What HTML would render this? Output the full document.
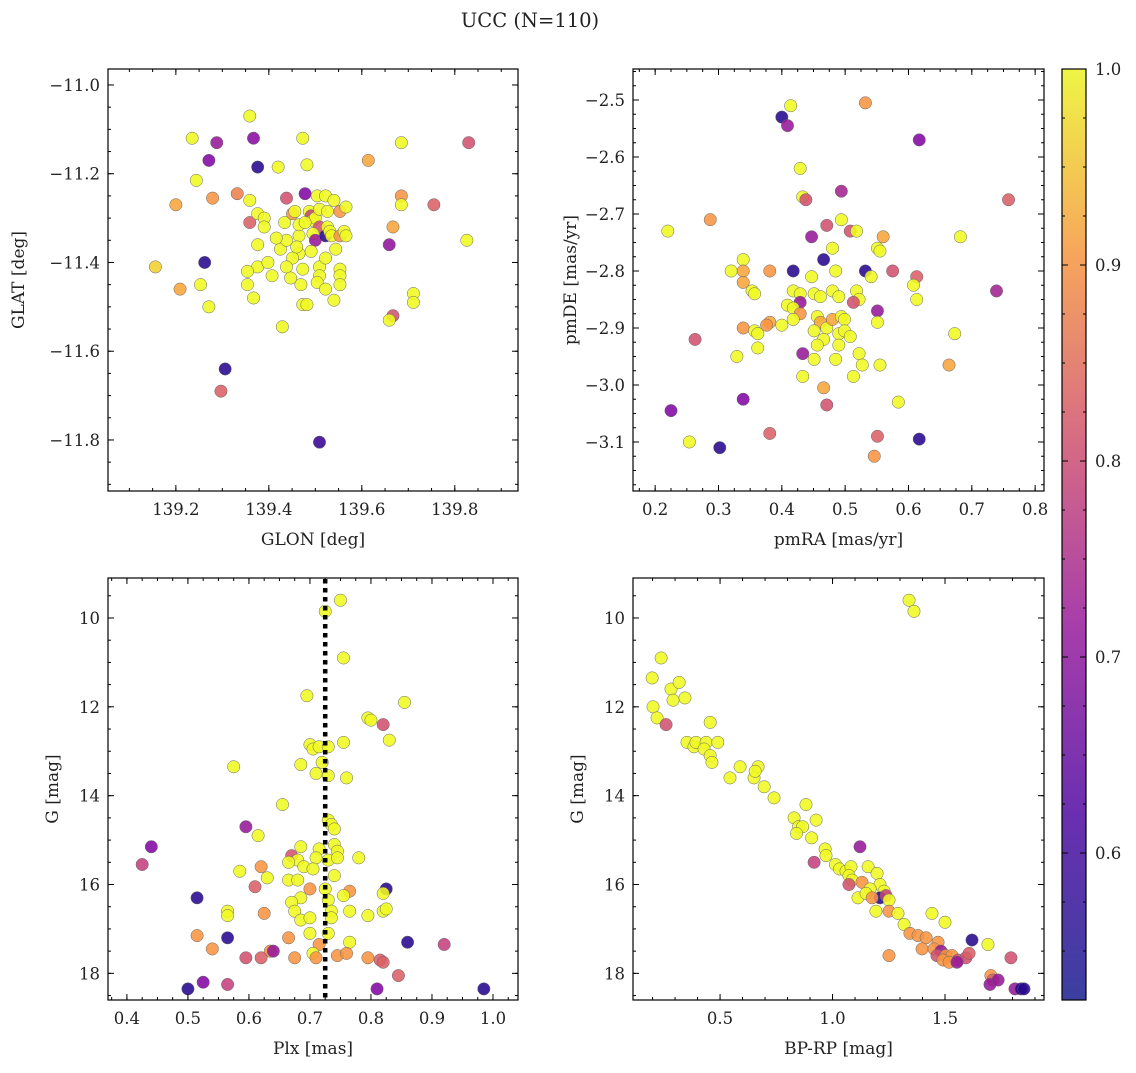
<!DOCTYPE html>
<html><head><meta charset="utf-8"><style>
html,body{margin:0;padding:0;background:#fff}
svg text{font-family:"DejaVu Serif","Liberation Serif",serif;fill:#222}
</style></head><body>
<svg id="fig" width="1136" height="1068" viewBox="0 0 1136 1068" xmlns="http://www.w3.org/2000/svg">
<defs><linearGradient id="cbg" x1="0" y1="1" x2="0" y2="0">
<stop offset="0" stop-color="#3b3fa0"/><stop offset="0.2" stop-color="#6a2fb0"/><stop offset="0.4" stop-color="#a73dab"/><stop offset="0.6" stop-color="#d66b84"/><stop offset="0.8" stop-color="#f7a55c"/><stop offset="1" stop-color="#eef545"/></linearGradient></defs>
<text x="530" y="27" text-anchor="middle" font-size="19.5">UCC (N=110)</text>
</svg>
<script>
// ---- data ----
const p1Glon=[139.235,139.288,139.367,139.359,139.271,139.376,139.244,139.332,139.20,139.279,139.42,139.473,139.482,139.685,139.83,139.614,139.685,139.755,139.685,139.667,139.826,139.659,139.667,139.711,139.711,139.659,139.156,139.209,139.253,139.271,139.262,139.306,139.297,139.509,139.359,139.359,139.376,139.39,139.376,139.376,139.354,139.367,139.354,139.407,139.425,139.438,139.434,139.438,139.451,139.429,139.465,139.465,139.469,139.473,139.482,139.473,139.451,139.465,139.487,139.478,139.491,139.495,139.50,139.504,139.509,139.495,139.50,139.509,139.509,139.504,139.522,139.522,139.526,139.531,139.535,139.54,139.553,139.544,139.553,139.566,139.553,139.562,139.566,139.522,139.54,139.522,139.553,139.398,139.438,139.447,139.456,139.478,139.509,139.491,139.46,139.39,139.526,139.416,139.553];
const p1Glat=[-11.12,-11.13,-11.12,-11.07,-11.17,-11.185,-11.215,-11.245,-11.27,-11.255,-11.185,-11.12,-11.18,-11.13,-11.13,-11.17,-11.25,-11.27,-11.27,-11.32,-11.35,-11.36,-11.52,-11.47,-11.49,-11.53,-11.41,-11.46,-11.45,-11.50,-11.40,-11.64,-11.69,-11.805,-11.31,-11.26,-11.29,-11.30,-11.36,-11.41,-11.42,-11.48,-11.45,-11.43,-11.37,-11.35,-11.31,-11.255,-11.29,-11.545,-11.34,-11.38,-11.45,-11.495,-11.495,-11.415,-11.39,-11.315,-11.285,-11.245,-11.295,-11.305,-11.30,-11.25,-11.32,-11.335,-11.35,-11.41,-11.43,-11.445,-11.25,-11.34,-11.32,-11.33,-11.34,-11.26,-11.285,-11.37,-11.415,-11.275,-11.34,-11.33,-11.34,-11.46,-11.485,-11.39,-11.43,-11.40,-11.41,-11.435,-11.285,-11.31,-11.28,-11.375,-11.365,-11.32,-11.285,-11.345,-11.45];
const p1Prob=[1,.68,.66,1,.65,.55,1,.85,.9,.88,1,1,1,1,.78,.9,.88,.8,1,.9,1,.67,.78,1,1,1,.95,.9,1,1,.55,.55,.8,.57,.8,1,1,1,1,1,1,1,1,1,1,1,1,.78,.88,1,1,1,1,1,1,1,1,1,1,.65,.75,1,1,1,.78,1,.68,1,1,1,1,.55,1,1,1,1,.88,1,1,1,.88,1,1,1,1,1,1,1,1,1,1,1,1,1,1,1,1,1,1];

const p2Pmra=[0.400,0.414,0.409,0.532,0.617,0.429,0.433,0.438,0.758,0.494,0.494,0.287,0.220,0.471,0.447,0.508,0.518,0.560,0.682,0.739,0.551,0.555,0.480,0.339,0.418,0.466,0.532,0.575,0.613,0.320,0.339,0.381,0.447,0.485,0.339,0.353,0.357,0.418,0.429,0.429,0.451,0.461,0.480,0.490,0.518,0.522,0.513,0.551,0.608,0.613,0.409,0.418,0.429,0.381,0.376,0.339,0.357,0.362,0.400,0.418,0.456,0.461,0.471,0.480,0.494,0.499,0.451,0.466,0.490,0.499,0.456,0.490,0.362,0.451,0.551,0.673,0.263,0.329,0.433,0.522,0.527,0.555,0.664,0.433,0.513,0.466,0.584,0.339,0.471,0.225,0.381,0.551,0.617,0.254,0.302,0.546,0.485,0.508,0.541];
const p2Pmde=[-2.53,-2.51,-2.545,-2.505,-2.57,-2.62,-2.67,-2.675,-2.675,-2.66,-2.71,-2.71,-2.73,-2.72,-2.74,-2.73,-2.73,-2.74,-2.74,-2.835,-2.76,-2.765,-2.76,-2.78,-2.80,-2.78,-2.80,-2.80,-2.81,-2.80,-2.80,-2.80,-2.81,-2.80,-2.82,-2.835,-2.84,-2.835,-2.84,-2.855,-2.84,-2.845,-2.835,-2.845,-2.835,-2.85,-2.855,-2.87,-2.825,-2.85,-2.86,-2.865,-2.875,-2.89,-2.895,-2.90,-2.905,-2.91,-2.895,-2.885,-2.88,-2.89,-2.90,-2.885,-2.88,-2.885,-2.905,-2.92,-2.91,-2.905,-2.93,-2.93,-2.935,-2.955,-2.89,-2.91,-2.92,-2.95,-2.945,-2.945,-2.965,-2.965,-2.965,-2.985,-2.985,-3.005,-3.03,-3.025,-3.035,-3.045,-3.085,-3.09,-3.095,-3.10,-3.11,-3.125,-2.955,-2.915,-2.81];
const p2Prob=[.55,1,.68,.88,.65,1,1,.78,.8,.7,1,.88,1,.78,.68,.78,1,.9,1,.7,1,1,1,1,.55,.55,.55,.78,.8,1,.9,.88,1,1,.9,1,1,1,1,.68,1,1,1,1,1,1,.78,.68,1,1,1,1,.88,.9,.88,.88,1,1,1,1,1,.9,1,.9,1,1,1,1,1,1,1,1,1,1,1,1,.78,1,.68,1,1,1,.9,1,1,.9,1,.65,.78,.65,.8,.8,.55,1,.55,.88,1,1,1];

const p3Plx=[0.75,0.725,0.755,0.695,0.855,0.795,0.80,0.82,0.83,0.755,0.70,0.705,0.715,0.73,0.72,0.685,0.575,0.71,0.73,0.76,0.655,0.73,0.735,0.74,0.595,0.615,0.44,0.685,0.715,0.74,0.745,0.425,0.67,0.68,0.665,0.71,0.73,0.745,0.78,0.69,0.705,0.62,0.585,0.74,0.63,0.665,0.68,0.61,0.70,0.725,0.825,0.765,0.515,0.82,0.685,0.67,0.755,0.73,0.735,0.565,0.565,0.675,0.625,0.765,0.82,0.825,0.795,0.685,0.70,0.735,0.70,0.515,0.665,0.73,0.565,0.86,0.765,0.54,0.715,0.635,0.64,0.92,0.705,0.675,0.71,0.745,0.76,0.595,0.62,0.795,0.815,0.82,0.565,0.525,0.845,0.50,0.81,0.985];
const p3G=[9.6,9.85,10.9,11.75,11.9,12.25,12.3,12.4,12.75,12.8,12.85,12.95,12.9,12.9,13.25,13.3,13.35,13.5,13.55,13.6,14.2,14.55,14.65,14.75,14.7,14.9,15.15,15.15,15.2,15.1,15.25,15.55,15.35,15.45,15.5,15.4,15.45,15.4,15.4,15.6,15.65,15.6,15.7,15.8,15.85,15.9,15.9,16.05,16.1,16.1,16.1,16.15,16.3,16.2,16.3,16.4,16.25,16.35,16.6,16.6,16.7,16.6,16.65,16.6,16.6,16.55,16.7,16.8,16.75,16.75,17.1,17.15,17.2,17.1,17.2,17.3,17.3,17.45,17.35,17.5,17.5,17.35,17.55,17.65,17.65,17.6,17.55,17.65,17.65,17.65,17.7,17.75,18.25,18.2,18.05,18.35,18.35,18.35];
const p3Prob=[1,1,1,1,1,1,1,.78,1,1,1,1,1,1,1,1,1,1,1,1,1,1,1,1,.68,1,.65,1,1,1,1,.75,.78,1,1,1,1,1,1,1,1,.88,1,1,1,1,1,.8,.88,1,.55,.88,.55,1,1,1,1,1,1,1,1,1,.88,1,1,1,1,1,1,1,1,.88,.88,1,.55,.55,1,.88,.88,.88,.68,.75,1,.88,.88,.88,.88,.78,.8,.88,.8,.8,.75,.65,.8,.55,.65,.55];
const plxMean=0.725;

const p4Bprp=[0.238,0.198,0.282,0.318,0.344,0.291,0.202,0.22,0.26,0.456,0.353,0.384,0.393,0.438,0.429,0.49,0.456,0.464,0.589,0.544,0.651,0.669,0.656,0.696,0.74,0.882,0.829,0.927,0.849,0.867,0.84,0.907,0.967,0.971,0.918,1.122,1.013,1.031,1.06,1.082,1.073,1.087,1.073,1.158,1.198,1.211,1.131,1.167,1.229,1.211,1.238,1.251,1.113,1.149,1.176,1.193,1.251,1.291,1.318,1.344,1.38,1.251,1.442,1.5,1.416,1.469,1.398,1.451,1.482,1.464,1.504,1.531,1.558,1.491,1.518,1.593,1.607,1.553,1.62,1.691,1.704,1.713,1.70,1.736,1.793,1.811,1.838,1.851,1.34,1.362];
const p4G=[10.9,11.35,11.6,11.45,11.8,11.85,12.0,12.25,12.4,12.35,12.8,12.9,12.8,12.8,12.95,12.8,13.1,13.25,13.35,13.6,13.6,13.35,13.45,13.8,14.05,14.2,14.5,14.55,14.7,14.7,14.85,14.95,15.2,15.35,15.5,15.15,15.55,15.65,15.7,15.6,15.8,15.9,16.0,15.6,15.75,16.0,15.95,16.1,16.15,16.3,16.25,16.35,16.3,16.2,16.3,16.6,16.6,16.65,16.9,17.1,17.15,17.6,16.65,16.85,17.2,17.3,17.45,17.45,17.5,17.6,17.6,17.6,17.7,17.7,17.75,17.65,17.55,17.75,17.25,17.35,18.05,18.15,18.25,18.15,17.65,18.35,18.35,18.35,9.6,9.85];
const p4Prob=[1,1,1,1,1,1,1,1,.78,1,1,1,1,1,1,1,1,1,1,1,1,1,1,1,1,1,1,1,1,1,1,1,1,1,.75,.68,1,1,1,1,1,1,.78,1,1,1,.88,1,1,.55,.75,1,1,1,.88,1,.88,1,1,.88,.88,.88,1,1,.88,.88,.88,.88,.68,.78,.88,.88,.78,.88,.88,.78,.8,.68,.55,1,.88,.8,.68,.68,.78,.68,.55,.55,1,1];

const xTicks1=[139.2,139.4,139.6,139.8], yTicks1=[-11.8,-11.6,-11.4,-11.2,-11.0];
const xTicks2=[0.2,0.3,0.4,0.5,0.6,0.7,0.8], yTicks2=[-3.1,-3.0,-2.9,-2.8,-2.7,-2.6,-2.5];
const xTicks3=[0.4,0.5,0.6,0.7,0.8,0.9,1.0], yTicks3=[10,12,14,16,18];
const xTicks4=[0.5,1.0,1.5], yTicks4=[10,12,14,16,18];
const cbTicks=[0.6,0.7,0.8,0.9,1.0];

// ---- rendering ----
const svg=document.getElementById('fig');
const NS='http://www.w3.org/2000/svg';
function mk(tag,attrs,parent){const e=document.createElementNS(NS,tag);for(const k in attrs)e.setAttribute(k,attrs[k]);(parent||svg).appendChild(e);return e;}
const stops=[[0,[13,8,135]],[0.25,[126,3,168]],[0.5,[204,71,120]],[0.75,[248,149,64]],[1,[240,249,33]]];
const pmin=0.525,pmax=1.0;
function plasma(p){let t=Math.max(0,Math.min(1,(p-pmin)/(pmax-pmin)));for(let i=1;i<stops.length;i++){if(t<=stops[i][0]){const a=stops[i-1],b=stops[i];const f=(t-a[0])/(b[0]-a[0]);const c=a[1].map((v,j)=>Math.round(v+(b[1][j]-v)*f));return `rgb(${c})`;}}return 'rgb(240,249,33)';}
function fmt(v,d){return (v<0?'\u2212':'')+Math.abs(v).toFixed(d);}

function panel(name,box,xr,yr,xt,yt,xd,yd,xminor,yminor,xl,yl,ylOff,xs,ys,ps){
  const [L,T,R,B]=box;
  const g=mk('g',{});
  
  
  const sx=v=>L+(v-xr[0])/(xr[1]-xr[0])*(R-L);
  const sy=v=>T+(v-yr[0])/(yr[1]-yr[0])*(B-T);
  const marks=mk('g',{},g);
  
  
  for(let i=0;i<xs.length;i++){
    const c=mk('circle',{cx:sx(xs[i]),cy:sy(ys[i]),r:6.2,fill:plasma(ps[i]),'fill-opacity':0.88,stroke:'#666','stroke-width':0.5},marks);
    
    
  }
  const ax=mk('g',{},g);
  
  
  mk('rect',{x:L,y:T,width:R-L,height:B-T,fill:'none',stroke:'#000','stroke-width':1.2},ax);
  const lo=Math.min(xr[0],xr[1]),hi=Math.max(xr[0],xr[1]);
  for(let v=Math.ceil(lo/xminor-1e-6)*xminor;v<=hi;v+=xminor){const x=sx(v);mk('line',{x1:x,x2:x,y1:B,y2:B-3,stroke:'#000'},ax);mk('line',{x1:x,x2:x,y1:T,y2:T+3,stroke:'#000'},ax);}
  const ylo=Math.min(yr[0],yr[1]),yhi=Math.max(yr[0],yr[1]);
  for(let v=Math.ceil(ylo/yminor-1e-6)*yminor;v<=yhi;v+=yminor){const y=sy(v);mk('line',{x1:L,x2:L+3,y1:y,y2:y,stroke:'#000'},ax);mk('line',{x1:R,x2:R-3,y1:y,y2:y,stroke:'#000'},ax);}
  xt.forEach(v=>{const x=sx(v);mk('line',{x1:x,x2:x,y1:B,y2:B-6,stroke:'#000'},ax);mk('line',{x1:x,x2:x,y1:T,y2:T+6,stroke:'#000'},ax);
    const t=mk('text',{x:x,y:B+24,'text-anchor':'middle','font-size':16.5},ax);t.textContent=fmt(v,xd);
    
    });
  yt.forEach(v=>{const y=sy(v);mk('line',{x1:L,x2:L+6,y1:y,y2:y,stroke:'#000'},ax);mk('line',{x1:R,x2:R-6,y1:y,y2:y,stroke:'#000'},ax);
    const t=mk('text',{x:L-8,y:y+6,'text-anchor':'end','font-size':16.5},ax);t.textContent=fmt(v,yd);
    
    });
  const xt2=mk('text',{x:(L+R)/2,y:B+54,'text-anchor':'middle','font-size':17},g);xt2.textContent=xl;
  
  
  const cy=(T+B)/2, cx=L-ylOff;
  const yt2=mk('text',{x:cx,y:cy,'text-anchor':'middle','font-size':17,transform:`rotate(-90 ${cx} ${cy})`},g);yt2.textContent=yl;
  
  
  return {sx,sy};
}
panel('glon-glat-panel',[108,69,518,491],[139.054,139.936],[-10.964,-11.915],xTicks1,yTicks1,1,1,0.05,0.05,'GLON [deg]','GLAT [deg]',84,p1Glon,p1Glat,p1Prob);
panel('pm-panel',[633,69,1044,491],[0.165,0.814],[-2.4456,-3.186],xTicks2,yTicks2,1,1,0.025,0.025,'pmRA [mas/yr]','pmDE [mas/yr]',57,p2Pmra,p2Pmde,p2Prob);
const a3=panel('plx-g-panel',[108,578,518,1000],[0.369,1.041],[9.1,18.6],xTicks3,yTicks3,1,0,0.025,0.5,'Plx [mas]','G [mag]',50,p3Plx,p3G,p3Prob);
const vl=mk('line',{x1:a3.sx(plxMean),x2:a3.sx(plxMean),y1:579,y2:999,stroke:'#000','stroke-width':4.5,'stroke-dasharray':'4.5,4.5'});


panel('cmd-panel',[633,578,1044,1000],[0.113,1.94],[9.1,18.6],xTicks4,yTicks4,1,0,0.1,0.5,'BP-RP [mag]','G [mag]',50,p4Bprp,p4G,p4Prob);

// colorbar
const cb=mk('g',{});


const cT=69,cB=1000,cL=1062,cR=1086;
mk('rect',{x:cL,y:cT,width:cR-cL,height:cB-cT,fill:'url(#cbg)',stroke:'#000','stroke-width':1.2},cb);
const cy=v=>cB-(v-pmin)/(pmax-pmin)*(cB-cT);
for(let v=0.55;v<=1.0001;v+=0.025){mk('line',{x1:cR,x2:cR-3,y1:cy(v),y2:cy(v),stroke:'#000'},cb);mk('line',{x1:cL,x2:cL+3,y1:cy(v),y2:cy(v),stroke:'#000'},cb);}
cbTicks.forEach(v=>{const y=cy(v);mk('line',{x1:cR,x2:cR-6,y1:y,y2:y,stroke:'#000'},cb);mk('line',{x1:cL,x2:cL+6,y1:y,y2:y,stroke:'#000'},cb);
  const t=mk('text',{x:cR+9,y:y+6,'font-size':16.5},cb);t.textContent=v.toFixed(1);
  
  });
</script>
</body></html>
